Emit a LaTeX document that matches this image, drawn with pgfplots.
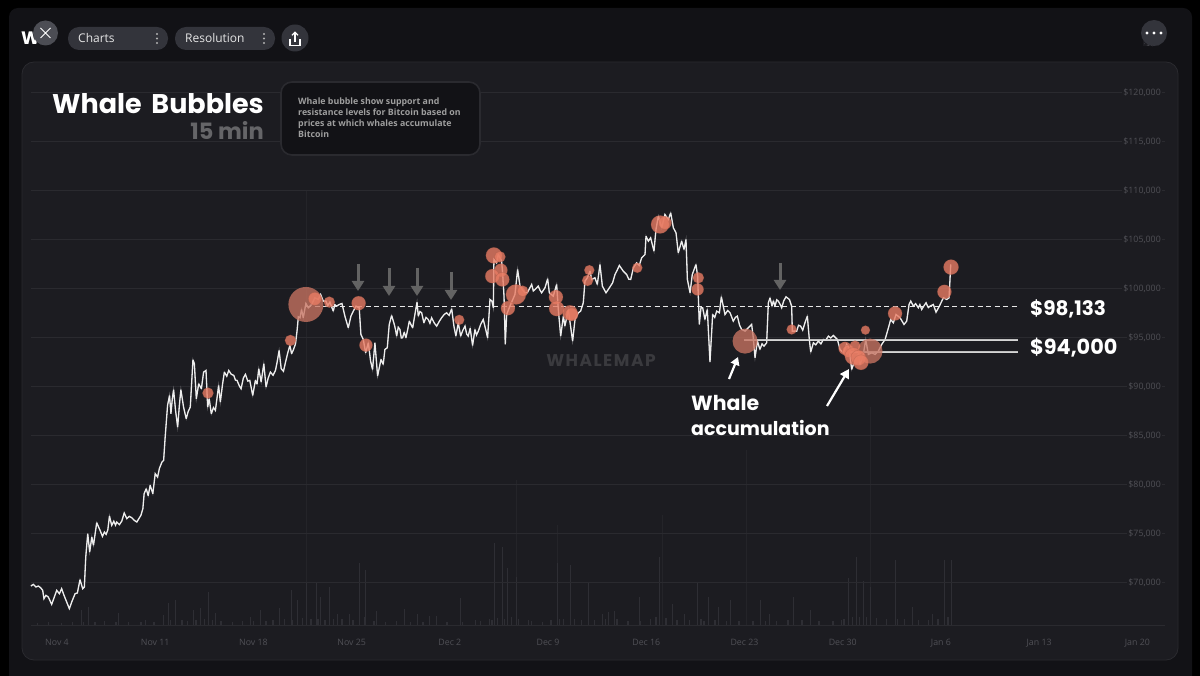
\documentclass[border=0pt]{standalone}
\usepackage{fontspec}
\setmainfont{Open Sans}
\newfontfamily\disp{Poppins}
\usepackage{pgfplots}
\usepackage{pgfplotstable}
\pgfplotsset{compat=1.18}
\usetikzlibrary{arrows.meta}
\definecolor{outer}{HTML}{000000}
\definecolor{win}{HTML}{121216}
\definecolor{panel}{HTML}{1C1C21}
\definecolor{gridc}{HTML}{2A2A2F}
\definecolor{tickc}{HTML}{505056}
\definecolor{pill}{HTML}{33343B}
\definecolor{closec}{HTML}{4C4D54}
\definecolor{bub}{HTML}{E87C64}
\definecolor{bubd}{HTML}{C87462}
\definecolor{volc}{HTML}{2E2E34}
\definecolor{volf}{HTML}{242429}
\definecolor{arrowg}{HTML}{636363}

\pgfplotstableread{
d p
-1.86 69590
-1.69 69760
-1.5 69490
-1.33 69590
-1.17 69420
-1.02 69150
-.93 68300
-.79 68640
-.62 68470
-.38 67720
-.19 68470
-.02 69150
.17 68810
.33 69320
.5 68640
.69 67960
.88 67280
1.05 67960
1.29 68810
1.45 68880
1.64 70240
1.83 69320
1.95 69490
2.05 72550
2.19 74930
2.33 73060
2.48 74590
2.6 73740
2.83 76050
3.07 75270
3.24 74660
3.38 75100
3.5 74860
3.62 75300
3.74 76730
3.9 75780
4.05 76200
4.17 75800
4.26 76120
4.45 75850
4.62 76220
4.79 77040
4.98 76460
5.15 76700
5.33 76560
5.5 76300
5.69 76120
5.85 76500
5.98 76800
6.12 77480
6.21 79010
6.36 79520
6.5 78800
6.64 79860
6.83 79010
7 81050
7.17 80710
7.3 81600
7.48 82240
7.6 82410
7.71 84790
7.88 88020
8.02 89040
8.12 87170
8.22 88700
8.31 89620
8.45 87500
8.6 85810
8.72 88000
8.83 89620
9.02 87850
9.21 86660
9.35 87400
9.5 87850
9.69 92680
9.79 92270
9.93 88700
10.1 90230
10.29 89720
10.45 91420
10.62 91590
10.74 87850
10.85 88700
10.93 87850
11 87170
11.15 87800
11.29 87510
11.52 90060
11.64 88360
11.8 90200
11.93 91420
12.1 91000
12.24 91590
12.42 91200
12.6 91080
12.72 90600
12.83 90570
13 90000
13.12 89720
13.28 90800
13.43 91190
13.6 90500
13.74 90570
13.95 89040
14.14 90570
14.26 90200
14.38 91760
14.55 90400
14.74 92270
14.9 89890
15.05 90800
15.21 91420
15.4 91100
15.57 91590
15.69 92440
15.83 93630
15.98 91760
16.14 91500
16.29 92440
16.45 93400
16.6 94140
16.72 93300
16.83 93630
17.0 94300
17.12 95770
17.2 97060
17.32 96960
17.43 97810
17.55 96960
17.74 98420
17.91 97980
18.15 98320
18.38 99000
18.62 98830
18.79 99340
18.98 98660
19.17 98660
19.3 98200
19.45 98560
19.69 97640
19.8 98300
19.93 98150
20.12 98320
20.31 98420
20.52 97130
20.76 95940
20.95 97130
21.12 97640
21.31 98150
21.54 97980
21.66 95260
21.83 94750
22 93390
22.19 94410
22.35 92540
22.49 91690
22.66 94410
22.85 91010
23.09 92710
23.25 92200
23.37 93730
23.54 93900
23.68 96280
23.85 97200
24.04 96280
24.12 95800
24.21 95090
24.32 96000
24.44 95770
24.54 94900
24.63 94920
24.75 95500
24.87 94920
25.0 95800
25.11 96620
25.25 96200
25.35 95940
25.51 97300
25.66 98560
25.75 97130
25.87 97600
25.99 97470
26.15 96450
26.3 97000
26.46 96790
26.58 96400
26.7 96960
26.9 96400
27.06 96110
27.25 96600
27.41 96960
27.6 97300
27.77 97470
27.95 97200
28.13 97880
28.29 96110
28.43 95090
28.6 96450
28.77 95090
28.93 95700
29.08 96110
29.2 95300
29.31 95090
29.45 95900
29.62 94140
29.79 95770
29.9 95200
30.03 95600
30.2 96300
30.38 96790
30.55 95800
30.69 94920
30.86 98830
31 98660
31.1 97980
31.14 102910
31.33 102570
31.45 103420
31.69 102740
31.76 101550
31.86 99170
31.95 94240
32.05 97300
32.28 98150
32.64 99340
32.83 101890
33 100190
33.18 99800
33.35 99510
33.52 99510
33.7 100000
33.83 100360
33.95 99700
34.07 99850
34.3 100190
34.42 99800
34.54 99510
34.78 100020
34.97 100940
35.09 99510
35.37 99170
35.61 100360
35.73 97810
35.9 95090
36.09 97130
36.2 96110
36.44 97810
36.75 94580
36.92 96790
37.16 97470
37.32 97640
37.51 98490
37.63 100700
37.8 101040
37.99 101720
38.11 100870
38.34 101040
38.51 100360
38.7 102400
38.87 100190
39.13 99510
39.37 100020
39.6 100530
39.77 101380
39.92 101800
40.08 102300
40.36 101720
40.6 101380
40.75 100900
40.89 100870
41.08 102060
41.31 102570
41.5 102300
41.67 103080
41.91 103420
41.98 105290
42.15 104780
42.31 105120
42.55 103760
42.69 105970
42.86 107330
43.1 106140
43.33 107500
43.57 106990
43.74 107670
43.93 106140
44.12 105630
44.28 103590
44.52 104780
44.69 103930
44.83 104950
44.93 100870
45.12 99510
45.28 101380
45.54 102400
45.66 101210
45.78 96280
45.9 98000
46.02 97980
46.18 96790
46.35 97810
46.54 92440
46.73 97300
46.88 97000
47.02 97640
47.21 97470
47.35 99100
47.48 98200
47.61 97300
47.8 97700
47.97 97470
48.2 96620
48.35 97000
48.49 97130
48.65 96200
48.8 95770
49.04 95600
49.27 95940
49.51 96280
49.62 95000
49.75 92880
49.92 94580
50.1 93730
50.25 94300
50.39 94070
50.58 94410
50.7 98490
50.82 99000
50.96 98150
51.06 98700
51.17 98150
51.3 98800
51.41 98660
51.55 98300
51.65 97980
51.8 98700
51.96 99100
52.2 98830
52.36 98150
52.41 95600
52.72 95600
52.85 96200
53 96110
53.15 95700
53.31 96450
53.48 97130
53.62 94750
53.72 93460
53.91 94410
54.08 94200
54.26 94580
54.45 94300
54.62 94750
54.8 94700
54.98 95090
55.15 94900
55.33 95160
55.62 94750
55.81 93730
56.04 93390
56.28 94240
56.45 93900
56.64 91690
56.88 92710
57.12 93220
57.24 92200
57.47 93220
57.64 94750
57.83 93220
58.07 93390
58.31 93220
58.54 93560
58.78 94240
59.02 94750
59.26 95940
59.42 96790
59.61 96450
59.8 97300
60.09 96960
60.37 96280
60.56 96620
60.73 98320
60.85 98660
61.04 98150
61.2 98400
61.39 97980
61.5 98300
61.63 97810
61.8 98200
61.94 98490
62.1 98000
62.23 98150
62.46 98320
62.65 97530
62.89 98150
63.06 98660
63.18 99000
63.41 98830
63.58 99000
63.7 102400
}\price

\pgfplotstableread{
d p r
10.76 89280 5.5
16.64 94650 5.5
18.38 98900 6.5
19.41 98560 5.5
21.5 98450 7
22.02 94170 6.5
28.67 96750 5
31.14 103320 8
31.57 103180 5.5
31.64 101820 6.5
31.02 101210 7
31.74 100870 7
32.71 99340 10
33.19 99680 5.5
32.14 97940 7
35.56 99070 7
35.61 97900 7.5
36.56 97470 7.5
36.68 97300 6.5
37.94 101820 5
37.82 100770 5.5
41.36 102060 5
42.98 106480 9
43.33 106650 6.5
45.71 101040 5.5
45.66 99850 6
52.36 95770 5
57.62 95700 4.5
56.17 93840 6.5
56.4 93560 6
56.88 94070 5.5
56.76 93050 8.5
57.12 92880 7.5
57.3 92410 7.5
59.73 97400 7
63.25 99610 7
63.72 102130 7.5
}\bubsmall

\pgfplotstableread{
d p r
17.74 98320 17.5
49.04 94580 12.5
57.95 93560 12.5
}\bubbig

\pgfplotstableread{
d h
1.76 15
2.24 18
4.38 12
6.29 5
7.6 10
7.95 22
8.43 25
9.74 15
10.21 17
10.81 33
11.29 12
13.79 8
14.5 15
15.88 17
16.69 35
17.12 25
17.79 42
18.51 43
18.77 28
19.42 38
19.98 11
20.86 11
21.52 62
22.01 55
22.76 14
24.79 16
25.71 11
26.53 9
27.02 9
28.72 27
29.8 5
30.78 6
31.14 82
31.73 78
32.09 57
32.71 48
33.56 5
35.65 62
36.57 60
37.85 42
38.86 11
39.29 13
39.71 14
41.48 28
42.92 68
43.87 21
44.69 11
45.67 42
46.42 28
47.11 18
47.96 25
50.15 25
50.74 11
52.47 28
53.68 15
56.4 47
56.96 68
57.45 44
57.94 38
59.74 65
60.98 18
62.36 11
63.24 65
63.76 65
}\volstrong

\pgfplotstableread{
d h
17.79 435
32.71 145
35.65 100
43.18 110
49.1 175
57.94 218
}\volfaint

\pgfplotstableread{
d h
-1.4 2
-0.6 3
0.3 2
1.1 3
1.9 3
2.7 3
3.4 4
4.2 3
5.1 3
6 3
6.9 3
7.6 4
8.1 5
8.9 5
9.3 4
9.9 5
10.5 6
11.1 5
11.7 4
12.5 3
13.2 4
14 4
14.9 4
15.4 5
16.2 6
16.8 5
17.5 7
18.1 6
18.6 6
19.1 5
19.7 6
20.3 6
21.1 5
21.9 8
22.6 4
23.4 3
24.2 4
25.2 3
26.1 3
27.8 3
28.9 3
30.2 4
31 5
31.4 7
31.9 6
32.4 8
32.9 6
33.8 4
34.6 3
35.2 5
35.8 6
36.1 6
36.9 6
37.4 5
38.3 5
39.1 6
39.9 6
40.7 4
41.6 4
42.3 6
42.7 8
43.4 7
44.2 5
45.1 5
45.9 6
46.1 4
46.9 5
47.7 4
48.6 4
49.6 4
50.5 4
51.3 4
52.1 5
53.1 5
54.3 4
55.3 4
55.9 5
56.1 6
56.7 8
57.2 8
57.7 8
58.4 7
59.1 6
59.9 6
60.4 6
61.4 5
62.1 5
62.8 6
63.5 8
}\volfuzz

\newcommand\tickfont{\fontsize{8.8}{9}\selectfont}

\begin{document}
\begin{tikzpicture}[x=1pt,y=-1pt]
\useasboundingbox (0,0) rectangle (1200,676);
\fill[outer] (0,0) rectangle (1200,676);
\fill[win,rounded corners=9pt] (9,8) rectangle (1192,700);
\fill[panel,rounded corners=12pt,draw=gridc,line width=0.8pt] (22,62) rectangle (1178,660);

% volume
\begin{axis}[at={(31pt,-625pt)},anchor=south west,scale only axis,
  width=1134pt,height=563pt,xmin=-1.853,xmax=78.97,ymin=0,ymax=563,
  hide axis]
\addplot[ycomb,color=volf,line width=0.7pt,mark=none] table[x=d,y=h] {\volfaint};
\addplot[ycomb,color=volc,line width=0.7pt,mark=none] table[x=d,y=h] {\volstrong};
\addplot[ycomb,color=volc,line width=1.4pt,mark=none] table[x=d,y=h] {\volfuzz};
\end{axis}

% price
\begin{axis}[at={(31pt,-625pt)},anchor=south west,scale only axis,
  width=1134pt,height=563pt,xmin=-1.853,xmax=78.97,ymin=65612,ymax=123061,
  axis line style={draw=none},
  axis x line*=bottom,
  axis y line*=right,
  ymajorgrids,
  grid style={gridc,line width=0.7pt},
  major tick length=0pt,
  xtick={0,7,14,21,28,35,42,49,56,63,70,77},
  xticklabels={Nov 4,Nov 11,Nov 18,Nov 25,Dec 2,Dec 9,Dec 16,Dec 23,Dec 30,Jan 6,Jan 13,Jan 20},
  ytick={70000,75000,80000,85000,90000,95000,100000,105000,110000,115000,120000},
  yticklabels={{\$70,000},{\$75,000},{\$80,000},{\$85,000},{\$90,000},{\$95,000},{\$100,000},{\$105,000},{\$110,000},{\$115,000},{\$120,000}},
  tick label style={font=\tickfont,text=tickc},
  xticklabel style={yshift=-11pt},
  yticklabel style={anchor=east,xshift=-2.5pt,yshift=-1.2pt,inner sep=1.5pt,fill=panel},
  clip=false]
\addplot[color=gridc,line width=0.8pt,forget plot] coordinates {(-1.853,65612) (78.97,65612)};
\addplot[color=white!90!black,line width=1.3pt,line join=miter,miter limit=3,mark=none] table[x=d,y=p] {\price};
\addplot[color=white!88!black,line width=1pt,dash pattern=on 5pt off 3.5pt] coordinates {(17.75,98133) (68.5,98133)};
\addplot[color=white!75!black,line width=1.3pt] coordinates {(49,94680) (68.5,94680)};
\addplot[color=white!75!black,line width=1.3pt] coordinates {(56.5,93460) (68.5,93460)};
\addplot[scatter,only marks,mark=*,
  visualization depends on={\thisrow{r}\as\rad},
  scatter/use mapped color={draw=bubd,fill=bubd},
  mark options={fill opacity=0.78,draw opacity=0},
  scatter/@pre marker code/.append style={/tikz/mark size=\rad,/tikz/fill opacity=0.78,/tikz/draw opacity=0}]
  table[x=d,y=p] {\bubbig};
\addplot[scatter,only marks,mark=*,
  visualization depends on={\thisrow{r}\as\rad},
  scatter/use mapped color={draw=bub!70!black,fill=bub},
  mark options={fill opacity=0.8,draw opacity=0.35,line width=0.6pt},
  scatter/@pre marker code/.append style={/tikz/mark size=\rad,/tikz/fill opacity=0.8,/tikz/draw opacity=0.35}]
  table[x=d,y=p] {\bubsmall};
\addplot[color=white,opacity=0.35,line width=1pt,mark=none] table[x=d,y=p] {\price};
\addplot[color=white,opacity=0.25,line width=1pt,dash pattern=on 5pt off 3.5pt] coordinates {(17.75,98133) (68.5,98133)};
\addplot[color=white,opacity=0.35,line width=1.1pt] coordinates {(49,94680) (68.5,94680)};
\addplot[color=white,opacity=0.35,line width=1.1pt] coordinates {(56.5,93460) (68.5,93460)};
\end{axis}

% top bar
\fill[pill,rounded corners=11pt] (68,27) rectangle (168,50);
\fill[pill,rounded corners=11pt] (175,27) rectangle (275,50);
\fill[pill] (295,38) circle (13.5);
\fill[pill] (1154,33) circle (13);
\node[white!90!black,anchor=base west,inner sep=0pt,font=\fontsize{12}{12}\selectfont] at (78,42.5) {Charts};
\node[white!90!black,anchor=base west,inner sep=0pt,font=\fontsize{12}{12}\selectfont] at (185,42.5) {Resolution};
\foreach \yy in {34,38.5,43} {\fill[white!70!black] (157,\yy) circle (1.1); \fill[white!70!black] (264,\yy) circle (1.1);}
\foreach \xx in {1147,1154,1161} {\fill[white] (\xx,33) circle (1.7);}
\draw[white,line width=1.1pt] (290,39) -- (290,45.5) -- (300,45.5) -- (300,39);
\draw[white,line width=1.1pt,-{Straight Barb[length=3pt,width=6pt]}] (295,42) -- (295,31.5);
\node[white,anchor=west,font=\disp\bfseries\fontsize{18}{18}\selectfont,inner sep=0pt] at (21,38.5) {W};
\fill[closec] (45.5,33) circle (12.5);
\draw[white,line width=1pt] (40.5,28) -- (50.5,38) (50.5,28) -- (40.5,38);

% title block
\node[white,anchor=base east,font=\disp\bfseries\fontsize{27}{27}\selectfont,inner sep=0pt] at (264,114) {Whale\hspace{4pt} Bubbles};
\node[white!32!panel,anchor=base east,font=\disp\bfseries\fontsize{22.5}{22.5}\selectfont,inner sep=0pt] at (264,139.5) {15 min};
\fill[win,draw=gridc,line width=1.6pt,rounded corners=11pt] (281,82) rectangle (480,155);
\node[white!62!black,anchor=north west,align=left,inner sep=0pt,font=\fontsize{8.8}{11}\selectfont\bfseries] at (298,98) {Whale bubble show support and\\resistance levels for Bitcoin based on\\prices at which whales accumulate\\Bitcoin};

% watermark
\node[white!13!panel,font=\disp\bfseries\fontsize{17}{17}\selectfont] at (601,361) {W\kern1.5pt H\kern1.5pt A\kern1.5pt L\kern1.5pt E\kern1.5pt M\kern1.5pt A\kern1.5pt P};

% grey arrows
\foreach \xa/\ya/\yb in {358/264/291,389/268/296,417/268/296,451/272/300,780/263/290}
  \draw[arrowg,line width=3pt,-{Triangle[length=10pt,width=12pt]}] (\xa,\ya) -- (\xa,\yb);
% white arrows
\draw[white,line width=2.2pt,-{Triangle[length=8pt,width=9pt]}] (729,379) -- (738,357);
\draw[white,line width=2.2pt,-{Triangle[length=9pt,width=10pt]}] (827,406) -- (849,369);

% annotations
\node[white,anchor=base west,inner sep=0pt,font=\disp\bfseries\fontsize{20.5}{20}\selectfont] at (691,410) {Whale};
\node[white,anchor=base west,inner sep=0pt,font=\disp\bfseries\fontsize{19}{20}\selectfont] at (691,435.5) {accumulation};
\node[white,anchor=base west,inner sep=0pt,font=\disp\bfseries\fontsize{20}{20}\selectfont] at (1030,315.5) {\$98,133};
\node[white,anchor=base west,inner sep=0pt,font=\disp\bfseries\fontsize{20.8}{20}\selectfont] at (1030,354.5) {\$94,000};
\end{tikzpicture}
\end{document}
